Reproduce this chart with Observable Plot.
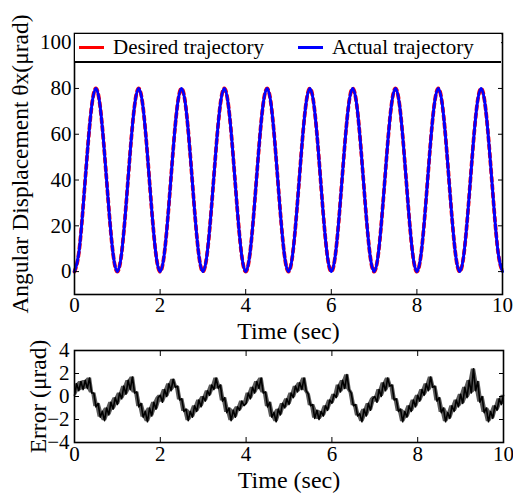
<!DOCTYPE html>
<html><head><meta charset="utf-8">
<script src="https://cdn.jsdelivr.net/npm/d3@7"></script>
<script src="https://cdn.jsdelivr.net/npm/@observablehq/plot@0.6"></script>
<style>
body{margin:0;background:#fff;}
#chart{position:relative;width:513px;height:493px;background:#fff;font-family:"Liberation Serif","Times New Roman",serif;overflow:hidden;}
#top,#bottom{position:absolute;left:0;}
#top{top:0}
#bottom{top:340px}
#legend{position:absolute;left:75px;top:34px;width:426px;height:27px;background:#fff;border-bottom:2px solid #000;font-size:21px;color:#000;}
.sw{position:absolute;top:12px;height:3px;width:25px}
.lt{position:absolute;top:0px;line-height:26px;white-space:nowrap}
</style></head>
<body>
<div id="chart"><div id="top"></div><div id="bottom"></div>
<div id="legend">
 <div class="sw" style="left:4px;background:#ff0000"></div><div class="lt" style="left:38px">Desired trajectory</div>
 <div class="sw" style="left:223px;background:#0000ff"></div><div class="lt" style="left:257px">Actual trajectory</div>
</div>
</div>
<script>
// ---------- data ----------
const timeTicks = [0, 2, 4, 6, 8, 10];
const angleTicks = [0, 20, 40, 60, 80, 100];
const errorTicks = [-4, -2, 0, 2, 4];

const trajStep = 0.1; // s
const desired = [
  0, 8, 28, 52, 72, 80, 72, 52, 28, 8,
  0, 8, 28, 52, 72, 80, 72, 52, 28, 8,
  0, 8, 28, 52, 72, 80, 72, 52, 28, 8,
  0, 8, 28, 52, 72, 80, 72, 52, 28, 8,
  0, 8, 28, 52, 72, 80, 72, 52, 28, 8,
  0, 8, 28, 52, 72, 80, 72, 52, 28, 8,
  0, 8, 28, 52, 72, 80, 72, 52, 28, 8,
  0, 8, 28, 52, 72, 80, 72, 52, 28, 8,
  0, 8, 28, 52, 72, 80, 72, 52, 28, 8,
  0, 8, 28, 52, 72, 80, 72, 52, 28, 8,
  0
];
const actual = [
  0, 8, 28, 52, 72, 80, 72, 52, 28, 8,
  0, 8, 28, 52, 72, 80, 72, 52, 28, 8,
  0, 8, 28, 52, 72, 80, 72, 52, 28, 8,
  0, 8, 28, 52, 72, 80, 72, 52, 28, 8,
  0, 8, 28, 52, 72, 80, 72, 52, 28, 8,
  0, 8, 28, 52, 72, 80, 72, 52, 28, 8,
  0, 8, 28, 52, 72, 80, 72, 52, 28, 8,
  0, 8, 28, 52, 72, 80, 72, 52, 28, 8,
  0, 8, 28, 52, 72, 80, 72, 52, 28, 8,
  0, 8, 28, 52, 72, 80, 72, 52, 28, 8,
  0
];

const errStep = 0.05; // s
const errorValues = [
  0.1, 1.1, 0.5, 1.3, 0.6, 1.4, 0.7, 1.6, 0.3, 0.3, -0.9, -0.6, -1.8, -1.3, -2.1, -1.0, -1.6, -0.5, -1.1, -0.1,
  -0.7, 0.3, -0.2, 0.9, 0.2, 1.4, 0.6, 1.7, 0.3, 0.4, -0.9, -0.6, -1.8, -1.3, -2.2, -1.0, -1.7, -0.5, -1.1, -0.1,
  0.1, -0.5, 0.6, 0.0, 1.1, 0.5, 1.5, 0.8, 0.9, -0.3, -0.2, -1.3, -1.1, -2.1, -1.3, -1.8, -0.8, -1.3, -0.3, -0.9,
  0.0, -0.4, 0.5, 0.1, 1.0, 0.6, 1.6, 0.7, 1.0, -0.4, -0.1, -1.4, -1.0, -2.1, -1.2, -1.8, -0.9, -1.2, -0.4, -0.8,
  -0.6, 0.3, -0.2, 0.8, 0.3, 1.3, 0.7, 1.6, 0.3, 0.4, -0.9, -0.5, -1.8, -1.4, -2.2, -1.1, -1.6, -0.6, -1.0, -0.2,
  -0.7, 0.3, -0.1, 0.9, 0.4, 1.2, 0.6, 1.6, 0.5, 0.2, -0.8, -0.7, -1.9, -1.2, -2.0, -1.3, -1.7, -0.8, -1.2, -0.3,
  -0.6, 0.2, -0.1, 1.0, 0.4, 1.4, 0.7, 1.9, 0.6, 0.3, -0.8, -0.7, -1.7, -1.5, -2.2, -1.1, -1.7, -0.6, -1.2, -0.2,
  0.0, -0.5, 0.6, 0.0, 1.2, 0.5, 1.6, 0.9, 1.0, -0.3, -0.2, -1.3, -1.1, -2.2, -1.3, -1.8, -0.8, -1.3, -0.3, -0.9,
  0.1, -0.4, 0.6, 0.1, 1.1, 0.5, 1.7, 0.8, 0.9, -0.4, -0.1, -1.4, -1.0, -2.2, -1.4, -1.9, -0.8, -1.3, -0.3, -0.9,
  0.2, -0.6, 0.8, -0.1, 1.4, 0.3, 2.4, 0.5, 1.3, -0.5, 0.0, -1.4, -1.0, -2.2, -1.3, -1.9, -0.8, -1.2, -0.2, -0.7,
  0.1
];

// ---------- tables ----------
const traj = desired.map((d, i) => ({t: i * trajStep, desired: d, actual: actual[i]}));
const err = errorValues.map((v, i) => {
  const w = errorValues.slice(Math.max(0, i - 1), i + 2);
  return {t: i * errStep, v, lo: d3.min(w), hi: d3.max(w)};
});

const font = {fontFamily: "Liberation Serif, Times New Roman, serif", fontSize: "21px", background: "transparent", color: "#000", overflow: "visible"};

const topPlot = Plot.plot({
  width: 513, height: 340,
  marginTop: 33, marginBottom: 46, marginLeft: 74, marginRight: 11,
  style: font,
  x: {domain: [0, 10]},
  y: {domain: [-10, 104]},
  marks: [
    Plot.lineY(traj, {x: "t", y: "desired", stroke: "#ff0000", strokeWidth: 3.8, strokeDasharray: "4,4", curve: "natural"}),
    Plot.lineY(traj, {x: "t", y: "actual", stroke: "#0000ff", strokeWidth: 2.9, curve: "natural"}),
    Plot.axisX(timeTicks, {anchor: "bottom", tickSize: 0, tickPadding: 3, label: null}),
    Plot.axisX(timeTicks, {anchor: "bottom", tickSize: 0, tickFormat: () => "", fontSize: 24, label: "Time (sec)", labelAnchor: "center", labelOffset: 44, labelArrow: "none"}),
    Plot.axisX(timeTicks, {anchor: "bottom", tickSize: 5, dy: -5, tickFormat: () => "", label: null}),
    Plot.axisY(angleTicks, {anchor: "left", tickSize: 0, tickPadding: 3, label: null}),
    Plot.axisY(angleTicks, {anchor: "left", tickSize: 0, tickFormat: () => "", fontSize: 23.5, label: "Angular Displacement θx(μrad)", labelAnchor: "center", labelOffset: 63, labelArrow: "none"}),
    Plot.axisY(angleTicks, {anchor: "left", tickSize: 5, dx: 5, tickFormat: () => "", label: null}),
    Plot.axisY(angleTicks, {anchor: "right", tickSize: 5, dx: -5, tickFormat: () => "", label: null}),
    Plot.frame({stroke: "#000", strokeWidth: 1.6})
  ]
});
document.getElementById("top").append(topPlot);

const bottomPlot = Plot.plot({
  width: 513, height: 153,
  marginTop: 10, marginBottom: 51, marginLeft: 74, marginRight: 10,
  style: font,
  x: {domain: [0, 10]},
  y: {domain: [-4, 4]},
  marks: [
    Plot.areaY(err, {x: "t", y1: "lo", y2: "hi", fill: "#000", fillOpacity: 0.65}),
    Plot.lineY(err, {x: "t", y: "v", stroke: "#000", strokeWidth: 1.6}),
    Plot.axisX(timeTicks, {anchor: "bottom", tickSize: 0, tickPadding: 4, label: null}),
    Plot.axisX(timeTicks, {anchor: "bottom", tickSize: 0, tickFormat: () => "", fontSize: 24, label: "Time (sec)", labelAnchor: "center", labelOffset: 45, labelArrow: "none"}),
    Plot.axisX(timeTicks, {anchor: "bottom", tickSize: 5, dy: -5, tickFormat: () => "", label: null}),
    Plot.axisX(timeTicks, {anchor: "top", tickSize: 5, dy: 5, tickFormat: () => "", label: null}),
    Plot.axisY(errorTicks, {anchor: "left", tickSize: 0, tickPadding: 5, label: null}),
    Plot.axisY(errorTicks, {anchor: "left", tickSize: 0, tickFormat: () => "", fontSize: 23.5, label: "Error (μrad)", labelAnchor: "center", labelOffset: 45, labelArrow: "none"}),
    Plot.axisY(errorTicks, {anchor: "left", tickSize: 5, dx: 5, tickFormat: () => "", label: null}),
    Plot.axisY(errorTicks, {anchor: "right", tickSize: 5, dx: -5, tickFormat: () => "", label: null}),
    Plot.frame({stroke: "#000", strokeWidth: 1.6})
  ]
});
document.getElementById("bottom").append(bottomPlot);
</script>
</body></html>
